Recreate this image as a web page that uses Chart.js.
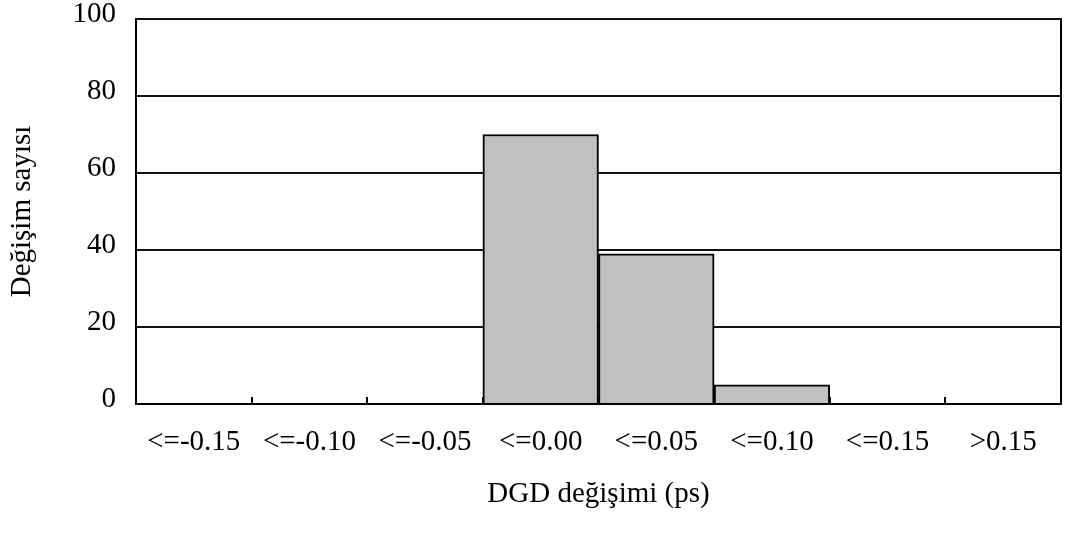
<!DOCTYPE html>
<html>
<head>
<meta charset="utf-8">
<script src="https://cdn.jsdelivr.net/npm/chart.js@4/dist/chart.umd.min.js"></script>
<style>
  html, body { margin: 0; padding: 0; background: #fff; }
  #wrap { width: 1068px; height: 534px; }
</style>
</head>
<body>
<div id="wrap"><canvas id="chartDGD"></canvas></div>
<script>
// categories (x) et effectifs
const categories = ["<=-0.15", "<=-0.10", "<=-0.05", "<=0.00", "<=0.05", "<=0.10", "<=0.15", ">0.15"];
const counts = [0, 0, 0, 70, 39, 5, 0, 0];
const yTicks = [0, 20, 40, 60, 80, 100];

const serif = "'Liberation Serif', 'Times New Roman', serif";
Chart.defaults.font.family = serif;
Chart.defaults.color = "#000";

const ctx = document.getElementById("chartDGD").getContext("2d");

// pas de marge auto au-dessus/au-dessous des axes verticaux
const noVPad = (s, w) => { s.width = w; s.paddingTop = 0; s.paddingBottom = 0; };

new Chart(ctx, {
  type: "bar",
  data: {
    labels: categories,
    datasets: [{
      label: "Değişim sayısı",
      data: counts,
      backgroundColor: "#c0c0c0",
      borderColor: "#000",
      borderWidth: 2,
      barPercentage: 1,
      categoryPercentage: 1
    }]
  },
  options: {
    responsive: true,
    maintainAspectRatio: false,
    animation: false,
    layout: { padding: { top: 19, left: 0, right: 0, bottom: 0 } },
    plugins: {
      legend: { display: false },
      tooltip: { enabled: false }
    },
    scales: {
      x: {
        grid: {
          drawOnChartArea: false,
          color: "#000",
          lineWidth: 2,
          tickLength: -7
        },
        border: { color: "#000", width: 2 },
        ticks: { font: { size: 29 }, padding: 28, maxRotation: 0, autoSkip: false },
        title: {
          display: true,
          text: "DGD değişimi (ps)",
          font: { size: 29 },
          padding: { top: 4, bottom: 22 }
        },
        afterFit: s => { s.height = 130; }
      },
      y: {
        min: 0,
        max: 100,
        afterBuildTicks: s => { s.ticks = yTicks.map(v => ({ value: v })); },
        grid: { color: "#111", lineWidth: 2, drawTicks: false },
        border: { color: "#000", width: 2 },
        ticks: { font: { size: 29 }, padding: 20, labelOffset: -5 },
        title: {
          display: true,
          text: "Değişim sayısı",
          font: { size: 29 },
          padding: { top: 5, bottom: 0 }
        },
        afterFit: s => noVPad(s, 136)
      },
      yRight: {
        position: "right",
        min: 0,
        max: 100,
        grid: { display: false },
        ticks: { display: false },
        border: { color: "#000", width: 2 },
        afterFit: s => noVPad(s, 7)
      }
    }
  }
});
</script>
</body>
</html>
